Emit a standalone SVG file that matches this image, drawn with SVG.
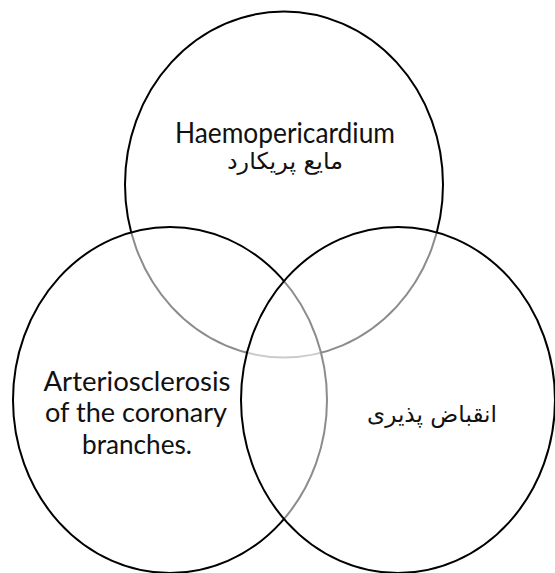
<svg xmlns="http://www.w3.org/2000/svg" width="555" height="573" viewBox="0 0 555 573">
<style>
.c{fill:#fff;fill-opacity:0.55;stroke:#000;stroke-width:2}
.en{font-family:Lato,"Open Sans",sans-serif;font-size:28px;fill:#111;text-anchor:middle}
.en2{font-family:Lato,"Open Sans",sans-serif;font-size:26px;fill:#111;text-anchor:middle}
.fa{font-family:"DejaVu Sans","Noto Sans",sans-serif;font-size:23px;fill:#111;text-anchor:middle}
</style>
<rect width="555" height="573" fill="#fff"/>
<g id="top">
<ellipse class="c" cx="284" cy="184.5" rx="159" ry="173"/>
</g>
<g id="left">
<ellipse class="c" cx="170" cy="400" rx="157" ry="173"/>
</g>
<g id="right">
<ellipse class="c" cx="398" cy="400" rx="157" ry="173"/>
</g>
<g id="labels">
<text class="en" x="285" y="143" textLength="220" lengthAdjust="spacingAndGlyphs">Haemopericardium</text>
<text class="fa" x="285" y="169" direction="rtl" textLength="116" lengthAdjust="spacingAndGlyphs">مایع پریکارد</text>
<text class="en2" x="137" y="391" textLength="187" lengthAdjust="spacingAndGlyphs">Arteriosclerosis</text>
<text class="en2" x="136" y="422" textLength="182" lengthAdjust="spacingAndGlyphs">of the coronary</text>
<text class="en2" x="137" y="454" textLength="110" lengthAdjust="spacingAndGlyphs">branches.</text>
<text class="fa" x="432" y="422" direction="rtl" textLength="130" lengthAdjust="spacingAndGlyphs">انقباض پذیری</text>
</g>
</svg>
